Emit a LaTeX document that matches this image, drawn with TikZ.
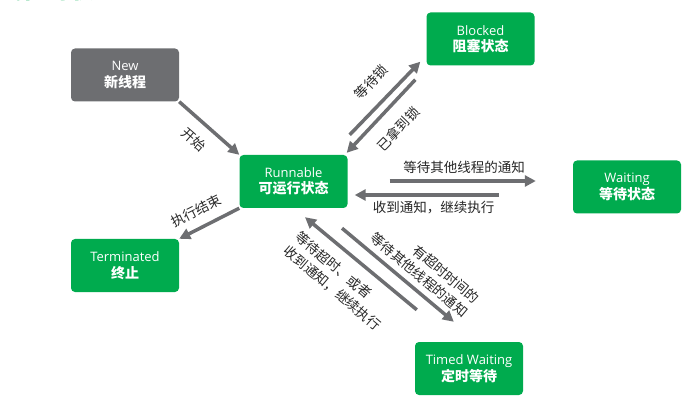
\documentclass[tikz,border=0pt]{standalone}
\usepackage{fontspec}
\setmainfont{Open Sans}
\newfontfamily\cjk{Noto Sans CJK SC}
\usetikzlibrary{arrows.meta,calc}
\definecolor{boxgreen}{HTML}{00AB4E}
\definecolor{boxgray}{HTML}{6D6E71}
\definecolor{arrgray}{HTML}{6D6E71}
\definecolor{lbl}{HTML}{262626}
\newcommand{\zh}[1]{{\cjk\bfseries\fontsize{14}{16.5}\selectfont #1}}
\begin{document}
\begin{tikzpicture}[x=1pt,y=-1pt,
  state/.style={rounded corners=4pt, fill=boxgreen, minimum width=108pt, minimum height=53pt,
    inner sep=0pt, text=white, align=center, font=\fontsize{13}{16.5}\selectfont},
  arr/.style={draw=arrgray, line width=3.5pt, -{Triangle[length=11pt,width=11pt]}},
  lab/.style={text=lbl, font=\cjk\fontsize{13.5}{18}\selectfont, inner sep=0pt}]
\useasboundingbox (0,0) rectangle (690,403);
% clipped title
\node[anchor=base west, inner sep=0pt, text=boxgreen, font=\cjk\bfseries\fontsize{24}{24}\selectfont] (title) at (-2,-1) {线程的状态};
% states
\node[state, fill=boxgray] (new) at (125,75) {New\\\zh{新线程}};
\node[state] (blk) at (480.5,39) {Blocked\\\zh{阻塞状态}};
\node[state] (run) at (293.5,181.5) {Runnable\\\zh{可运行状态}};
\node[state] (wait) at (627,187) {Waiting\\\zh{等待状态}};
\node[state] (term) at (125,265.5) {Terminated\\\zh{终止}};
\node[state] (tim) at (469,368.5) {Timed Waiting\\\zh{定时等待}};
% connectors
\draw[arr] (new.south east) -- (run.north west);
\draw[arr] (run.south west) -- (term.north east);
\draw[arr] ($(run.north east)+(2,-20)$) -- ($(blk.south west)+(-6,-4)$);
\draw[arr] ($(blk.south west)+(-11,14)$) -- ($(run.north east)+(-1,-2)$);
\draw[arr] ($(run.east)+(42,-0.5)$) -- ($(wait.west)+(-37,-6)$);
\draw[arr] ($(wait.west)+(-74,8)$) -- ($(run.east)+(7,13.5)$);
\draw[arr] ($(tim.north west)+(2,-32)$) -- ($(run.south)+(11.5,9)$);
\draw[arr] ($(run.south)+(48.5,20)$) -- ($(tim.north west)+(39,-20)$);
% labels
\node[lab, rotate=-41] (l1) at (194,140) {开始};
\node[lab, rotate=27] (l2) at (196,211) {执行结束};
\node[lab, rotate=46] (l3) at (371,82) {等待锁};
\node[lab, rotate=46] (l4) at (398,129) {已拿到锁};
\node[lab] (l5) at (464,167) {等待其他线程的通知};
\node[lab] (l6) at (433.5,208) {收到通知，继续执行};
\node[lab, rotate=-40, align=left] (l7) at (338,281) {等待超时、或者\\收到通知，继续执行};
\node[lab, rotate=-40, align=right] (l8) at (425,268) {有超时时间的\\等待其他线程的通知};
\end{tikzpicture}
\end{document}
